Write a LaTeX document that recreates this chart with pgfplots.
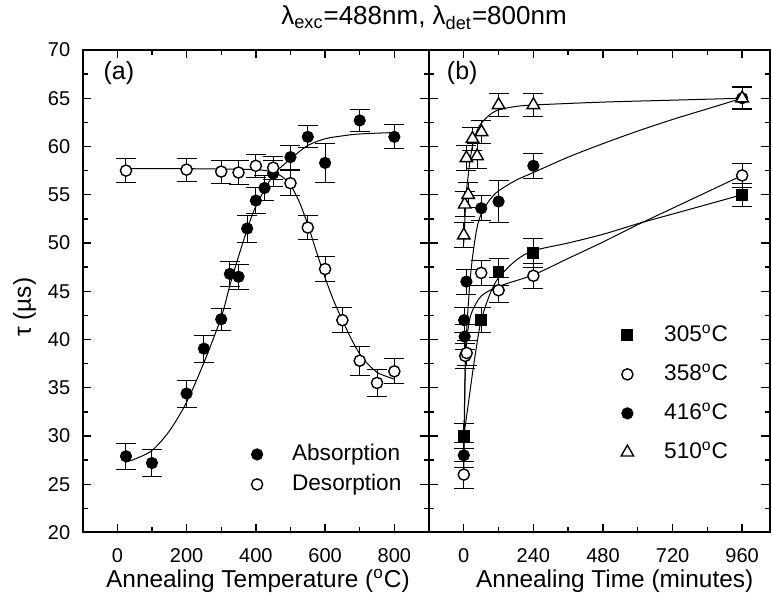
\documentclass[border=0pt]{standalone}
\usepackage{fontspec}
\setmainfont{Liberation Sans}
\usepackage{pgfplots}
\pgfplotsset{compat=1.18}

\pgfplotsset{
  panel/.style={
    scale only axis, height=241.25pt,
    ymin=20, ymax=70, ytick={20,25,...,70}, minor y tick num=1,
    minor x tick num=1,
    tick align=inside, major tick length=4.25pt, minor tick length=2.5pt,
    tick style={black, line width=0.7pt},
    axis line style={line width=1pt},
    tick label style={font=\fontsize{10}{12}\selectfont},
    /pgf/number format/assume math mode=true,
    xticklabel style={yshift=-4.5pt},
    yticklabel style={xshift=-2.7pt},
    legend cell align=left,
  },
  err/.style={error bars/.cd, y dir=both, y explicit,
    error bar style={line width=0.5pt, black},
    error mark options={rotate=90, mark size=5pt, line width=0.5pt, black}},
  fit/.style={black, line width=0.5pt, smooth, no marks, forget plot},
  legA/.style={legend image code/.code={\path[draw=none] (-5pt,0pt) -- (17pt,0pt); \draw[##1] plot coordinates {(0pt,0pt)};}},
  legB/.style={legend image code/.code={\path[draw=none] (-5pt,0pt) -- (17.9pt,0pt); \draw[##1] plot coordinates {(0pt,0pt)};}},
  fullc/.style={only marks, mark=*, mark size=2.8pt, black, mark options={fill=black, line width=0.5pt}},
  openc/.style={only marks, mark=*, mark size=2.8pt, black, mark options={fill=white, line width=0.7pt}},
  fulls/.style={only marks, mark=square*, mark size=2.7pt, black, mark options={fill=black, line width=0.5pt}},
  opent/.style={only marks, mark=triangle*, mark size=3.6pt, black, mark options={fill=white, line width=0.7pt}},
  legsty/.style={legend style={draw=none, fill=none, inner sep=0pt, column sep=0pt,
    nodes={inner sep=0.5pt, text height=9pt, text depth=3pt, font=\fontsize{11.3}{13}\selectfont}}},
}

\begin{document}
\begin{tikzpicture}
\useasboundingbox (0,0) rectangle (386pt,296.5pt);

% (a) annealing temperature
\begin{axis}[panel, at={(41.35pt,30.25pt)}, anchor=south west, width=173.15pt,
  xmin=-100, xmax=900, xtick={0,200,...,800},
  ylabel={τ (µs)}, xlabel={Annealing Temperature (\textsuperscript{o}C)},
  every axis y label/.style={at={(axis description cs:-0.168,0.467)}, rotate=90, anchor=center, font=\fontsize{12.2}{14}\selectfont},
  every axis x label/.style={at={(axis description cs:0.506,-0.113)}, anchor=base, font=\fontsize{12.2}{14}\selectfont},
  legsty, legend style={at={(0.4736,0.1896)}, anchor=north west, row sep=2pt},
]
\addplot[fit] coordinates {(25,27.3) (50,27.6) (100,28.5) (150,30.5) (200,33.5) (250,37.6) (300,42.3) (325,45.6) (350,48.6) (375,51.4) (400,53.8) (450,57.0) (500,58.7) (550,60.1) (600,60.8) (650,61.1) (700,61.3) (800,61.45)};
\addplot[fit] coordinates {(25,57.7) (200,57.7) (400,57.6) (450,57.3) (475,56.9) (500,56.0) (525,54.3) (550,51.9) (575,49.1) (600,46.4) (625,44.0) (650,42.0) (675,40.1) (700,38.5) (725,37.4) (750,36.6) (775,36.2) (800,35.9)};
\addplot[fullc, legA, err] coordinates {
  (25,27.9) +- (0,1.35) (100,27.2) +- (0,1.35) (200,34.4) +- (0,1.4) (250,39.05) +- (0,1.4)
  (300,42.1) +- (0,1.15) (325,46.8) +- (0,1.3) (350,46.5) +- (0,1.3) (375,51.5) +- (0,1.4)
  (400,54.4) +- (0,1.3) (425,55.7) +- (0,1.3) (450,57.2) +- (0,1.3) (500,58.9) +- (0,1.25)
  (550,61.0) +- (0,1.15) (600,58.3) +- (0,2.0) (700,62.7) +- (0,1.15) (800,61.0) +- (0,1.25)};
\addlegendentry{Absorption}
\addplot[openc, legA, err] coordinates {
  (25,57.5) +- (0,1.25) (200,57.6) +- (0,1.2) (300,57.4) +- (0,1.2) (350,57.3) +- (0,1.2)
  (400,58.0) +- (0,1.2) (450,57.8) +- (0,1.2) (500,56.2) +- (0,1.3) (550,51.6) +- (0,1.2)
  (600,47.3) +- (0,1.3) (650,42.0) +- (0,1.3) (700,37.8) +- (0,1.5) (750,35.5) +- (0,1.4)
  (800,36.7) +- (0,1.3)};
\addlegendentry{Desorption}
\node[anchor=base west, font=\fontsize{12.5}{14}\selectfont] at (rel axis cs:0.04,0.938) {(a)};
\end{axis}

% (b) annealing time
\begin{axis}[panel, at={(214.5pt,30.25pt)}, anchor=south west, width=170.5pt,
  xmin=-120, xmax=1056, xtick={0,240,...,960}, yticklabels={},
  xlabel={Annealing Time (minutes)},
  every axis x label/.style={at={(axis description cs:0.5446,-0.113)}, anchor=base, font=\fontsize{12.2}{14}\selectfont},
  legsty, legend style={at={(0.5513,0.4363)}, anchor=north west, row sep=6.5pt},
]
\addplot[fit] coordinates {(0,30) (15,33.2) (30,36.5) (45,39.5) (60,42.0) (90,44.7) (120,46.4) (180,48.2) (240,49.2) (360,50.0) (480,50.9) (600,52.0) (720,53.0) (840,54.0) (960,55.0)};
\addplot[fit] coordinates {(0,26) (3,33) (5,37) (10,40) (20,42) (30,43) (60,44.5) (120,45.5) (240,46.7) (360,48.4) (480,50.1) (600,51.9) (720,53.6) (840,55.3) (960,57.0)};
\addplot[fit] coordinates {(0,28) (2,32.5) (5,37) (10,41) (20,45.5) (30,48.5) (45,51.5) (60,53.0) (90,54.5) (120,55.4) (180,56.5) (240,57.3) (360,58.9) (480,60.3) (600,61.6) (720,62.8) (840,63.9) (960,65.0)};
\addplot[fit] coordinates {(0,50) (5,53.2) (10,55.6) (15,56.9) (20,58.2) (30,60.1) (45,61.6) (60,62.4) (90,63.3) (120,63.8) (180,64.15) (240,64.3) (480,64.6) (720,64.8) (960,65.0)};
\addplot[fulls, legB, err] coordinates {
  (0,30.0) +- (0,1.3) (60,42.0) +- (0,1.3) (120,47.0) +- (0,1.4) (240,49.0) +- (0,1.5) (960,55.0) +- (0,1.2)};
\addlegendentry{305\textsuperscript{o}C}
\addplot[openc, legB, err] coordinates {
  (0,26.0) +- (0,1.4) (5,38.3) +- (0,1.3) (10,38.6) +- (0,1.3) (60,46.9) +- (0,1.3)
  (120,45.1) +- (0,1.3) (240,46.6) +- (0,1.3) (960,57.0) +- (0,1.2)};
\addlegendentry{358\textsuperscript{o}C}
\addplot[fullc, legB, err] coordinates {
  (0,28.0) +- (0,1.3) (3,40.3) +- (0,1.3) (1,42.0) +- (0,1.3) (9,46.0) +- (0,1.3)
  (60,53.6) +- (0,1.3) (120,54.3) +- (0,2.2) (240,58.0) +- (0,1.3) (960,65.0) +- (0,1.1)};
\addlegendentry{416\textsuperscript{o}C}
\addplot[opent, legB, err] coordinates {
  (0,50.8) +- (0,1.3) (3,54.0) +- (0,1.3) (15,55.0) +- (0,1.3) (9,58.8) +- (0,1.3)
  (46,59.0) +- (0,1.3) (30,60.8) +- (0,1.2) (61,61.5) +- (0,1.2) (120,64.3) +- (0,1.2)
  (240,64.3) +- (0,1.2) (960,65.0) +- (0,1.2)};
\addlegendentry{510\textsuperscript{o}C}
\node[anchor=base west, font=\fontsize{12.5}{14}\selectfont] at (rel axis cs:0.032,0.938) {(b)};
\end{axis}

\node[anchor=base, font=\fontsize{13}{15}\selectfont] at (212pt,284pt) {λ\textsubscript{exc}=488nm, λ\textsubscript{det}=800nm};
\end{tikzpicture}
\end{document}
